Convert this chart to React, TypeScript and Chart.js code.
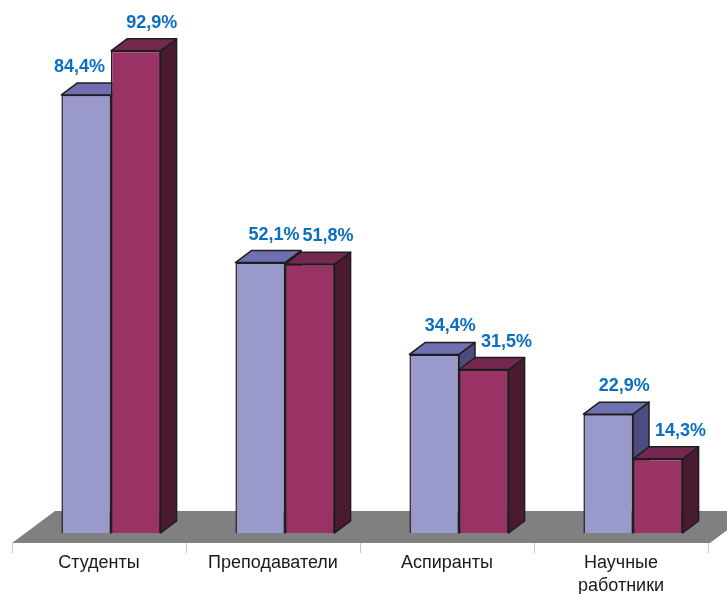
import React, { useEffect, useRef } from 'react';
import { Chart, registerables } from 'chart.js';

Chart.register(...registerables);

const categories: (string | string[])[] = ['Студенты', 'Преподаватели', 'Аспиранты', ['Научные', 'работники']];
const seriesA = [84.4, 52.1, 34.4, 22.9];
const seriesB = [92.9, 51.8, 31.5, 14.3];
const seriesNames = ['Ряд 1', 'Ряд 2'];

const frontColors = ['#9999cc', '#993366'];
const topColors = ['#6f6fb2', '#74284f'];
const sideColors = ['#4c4c80', '#4a1a31'];
const EDGE = '#1e1e1e';

const SHIFT = 12;
const DX = 16;
const DY = 12;
const FLOOR_FRONT = 10;
const FLOOR_DEPTH = 32;
const FLOOR_DX = 43;

const fmt = (v: number) => v.toFixed(1).replace('.', ',') + '%';

const bar3d = {
  id: 'bar3d',
  beforeDatasetsDraw(chart: any) {
    const { ctx, chartArea, scales } = chart;
    const xs = scales.x;
    const n = chart.data.labels.length;
    const catW = (chartArea.right - chartArea.left) / n;
    const fy = chartArea.bottom + FLOOR_FRONT;
    const by = fy - FLOOR_DEPTH;
    ctx.save();
    // floor
    ctx.fillStyle = '#808080';
    ctx.beginPath();
    ctx.moveTo(chartArea.left, fy);
    ctx.lineTo(chartArea.right + 2, fy);
    ctx.lineTo(chartArea.right + 2 + FLOOR_DX, by);
    ctx.lineTo(chartArea.left + FLOOR_DX, by);
    ctx.closePath();
    ctx.fill();
    // tick marks
    ctx.strokeStyle = '#c8c8c8';
    ctx.lineWidth = 1;
    for (let k = 0; k <= n; k++) {
      const px = Math.round(xs.getPixelForTick(0) - catW / 2 + k * catW) + 0.5;
      ctx.beginPath();
      ctx.moveTo(px, fy);
      ctx.lineTo(px, fy + 10);
      ctx.stroke();
    }
    // side and top faces
    ctx.lineWidth = 1.5;
    ctx.lineJoin = 'round';
    ctx.strokeStyle = EDGE;
    for (let i = 0; i < n; i++) {
      for (let d = 0; d < chart.data.datasets.length; d++) {
        const el = chart.getDatasetMeta(d).data[i];
        const { x, y, base, width } = el.getProps(['x', 'y', 'base', 'width'], true);
        const l = x - width / 2 + SHIFT;
        const r = x + width / 2 + SHIFT;
        ctx.fillStyle = sideColors[d];
        ctx.beginPath();
        ctx.moveTo(r, y);
        ctx.lineTo(r + DX, y - DY);
        ctx.lineTo(r + DX, base - DY);
        ctx.lineTo(r, base);
        ctx.closePath();
        ctx.fill();
        ctx.stroke();
        ctx.fillStyle = topColors[d];
        ctx.beginPath();
        ctx.moveTo(l, y);
        ctx.lineTo(l + DX, y - DY);
        ctx.lineTo(r + DX, y - DY);
        ctx.lineTo(r, y);
        ctx.closePath();
        ctx.fill();
        ctx.stroke();
      }
    }
    ctx.restore();
    ctx.save();
    ctx.translate(SHIFT, 0);
  },
  afterDatasetsDraw(chart: any) {
    const { ctx } = chart;
    ctx.restore();
    ctx.save();
    ctx.font = 'bold 18px "Liberation Sans", Arial, sans-serif';
    ctx.fillStyle = '#0a6fc0';
    ctx.textAlign = 'center';
    ctx.textBaseline = 'alphabetic';
    const CAP = 13;
    const n = chart.data.labels.length;
    for (let i = 0; i < n; i++) {
      const items: any[] = [];
      for (let d = 0; d < chart.data.datasets.length; d++) {
        const el = chart.getDatasetMeta(d).data[i];
        const { x, y, width } = el.getProps(['x', 'y', 'width'], true);
        const text = fmt(chart.data.datasets[d].data[i]);
        const w = ctx.measureText(text).width;
        items.push({ text, w, cx: x + SHIFT + DX, baseY: y - DY - 11, l: x - width / 2 + SHIFT, r: x + width / 2 + SHIFT, top: y - DY });
      }
      for (let d = 0; d < items.length - 1; d++) {
        const a = items[d];
        const b = items[d + 1];
        // left label must not run into the taller bar on its right
        if (a.baseY > b.top && a.cx + a.w / 2 > b.l - 4) {
          a.cx = b.l - 6 - a.w / 2;
        }
        // right label must clear the side face of the taller bar on its left
        if (b.baseY > a.top && b.baseY - CAP < a.top + DY + 400 && b.cx - b.w / 2 < a.r + DX + 6) {
          b.cx = a.r + DX + 6 + b.w / 2;
        }
        const overlap = a.cx + a.w / 2 + 3 - (b.cx - b.w / 2);
        if (overlap > 0 && Math.abs(a.baseY - b.baseY) < 16) {
          a.cx -= overlap / 2;
          b.cx += overlap / 2;
        }
      }
      items.forEach((it) => ctx.fillText(it.text, it.cx, it.baseY));
    }
    ctx.restore();
  },
};

export default function App() {
  const ref = useRef<HTMLCanvasElement | null>(null);
  useEffect(() => {
    if (!ref.current) return;
    Chart.defaults.font.family = '"Liberation Sans", Arial, sans-serif';
    const chart = new Chart(ref.current, {
      type: 'bar',
      data: {
        labels: categories as any,
        datasets: [
          { label: seriesNames[0], data: seriesA, backgroundColor: frontColors[0], borderColor: EDGE, borderWidth: 1.5 },
          { label: seriesNames[1], data: seriesB, backgroundColor: frontColors[1], borderColor: EDGE, borderWidth: 1.5 },
        ],
      },
      options: {
        responsive: false,
        animation: false,
        layout: { padding: { top: 14, left: 12, right: 19, bottom: 0 } },
        datasets: { bar: { categoryPercentage: 0.57, barPercentage: 1 } },
        plugins: { legend: { display: false }, tooltip: { enabled: false } },
        scales: {
          x: {
            grid: { display: false, drawTicks: false },
            border: { display: false },
            ticks: {
              padding: 19,
              color: '#1a1a1a',
              font: { size: 18, lineHeight: 1.25 },
              maxRotation: 0,
              autoSkip: false,
            },
            afterFit: (s: any) => {
              s.height = 61;
            },
          },
          y: { display: false, min: 0, max: 100 },
        },
      },
      plugins: [bar3d],
    } as any);
    return () => chart.destroy();
  }, []);
  return (
    <div style={{ position: 'fixed', left: 0, top: 0, width: 727, height: 594, background: '#fff' }}>
      <canvas ref={ref} width={727} height={594} style={{ display: 'block', width: 727, height: 594 }} />
    </div>
  );
}
